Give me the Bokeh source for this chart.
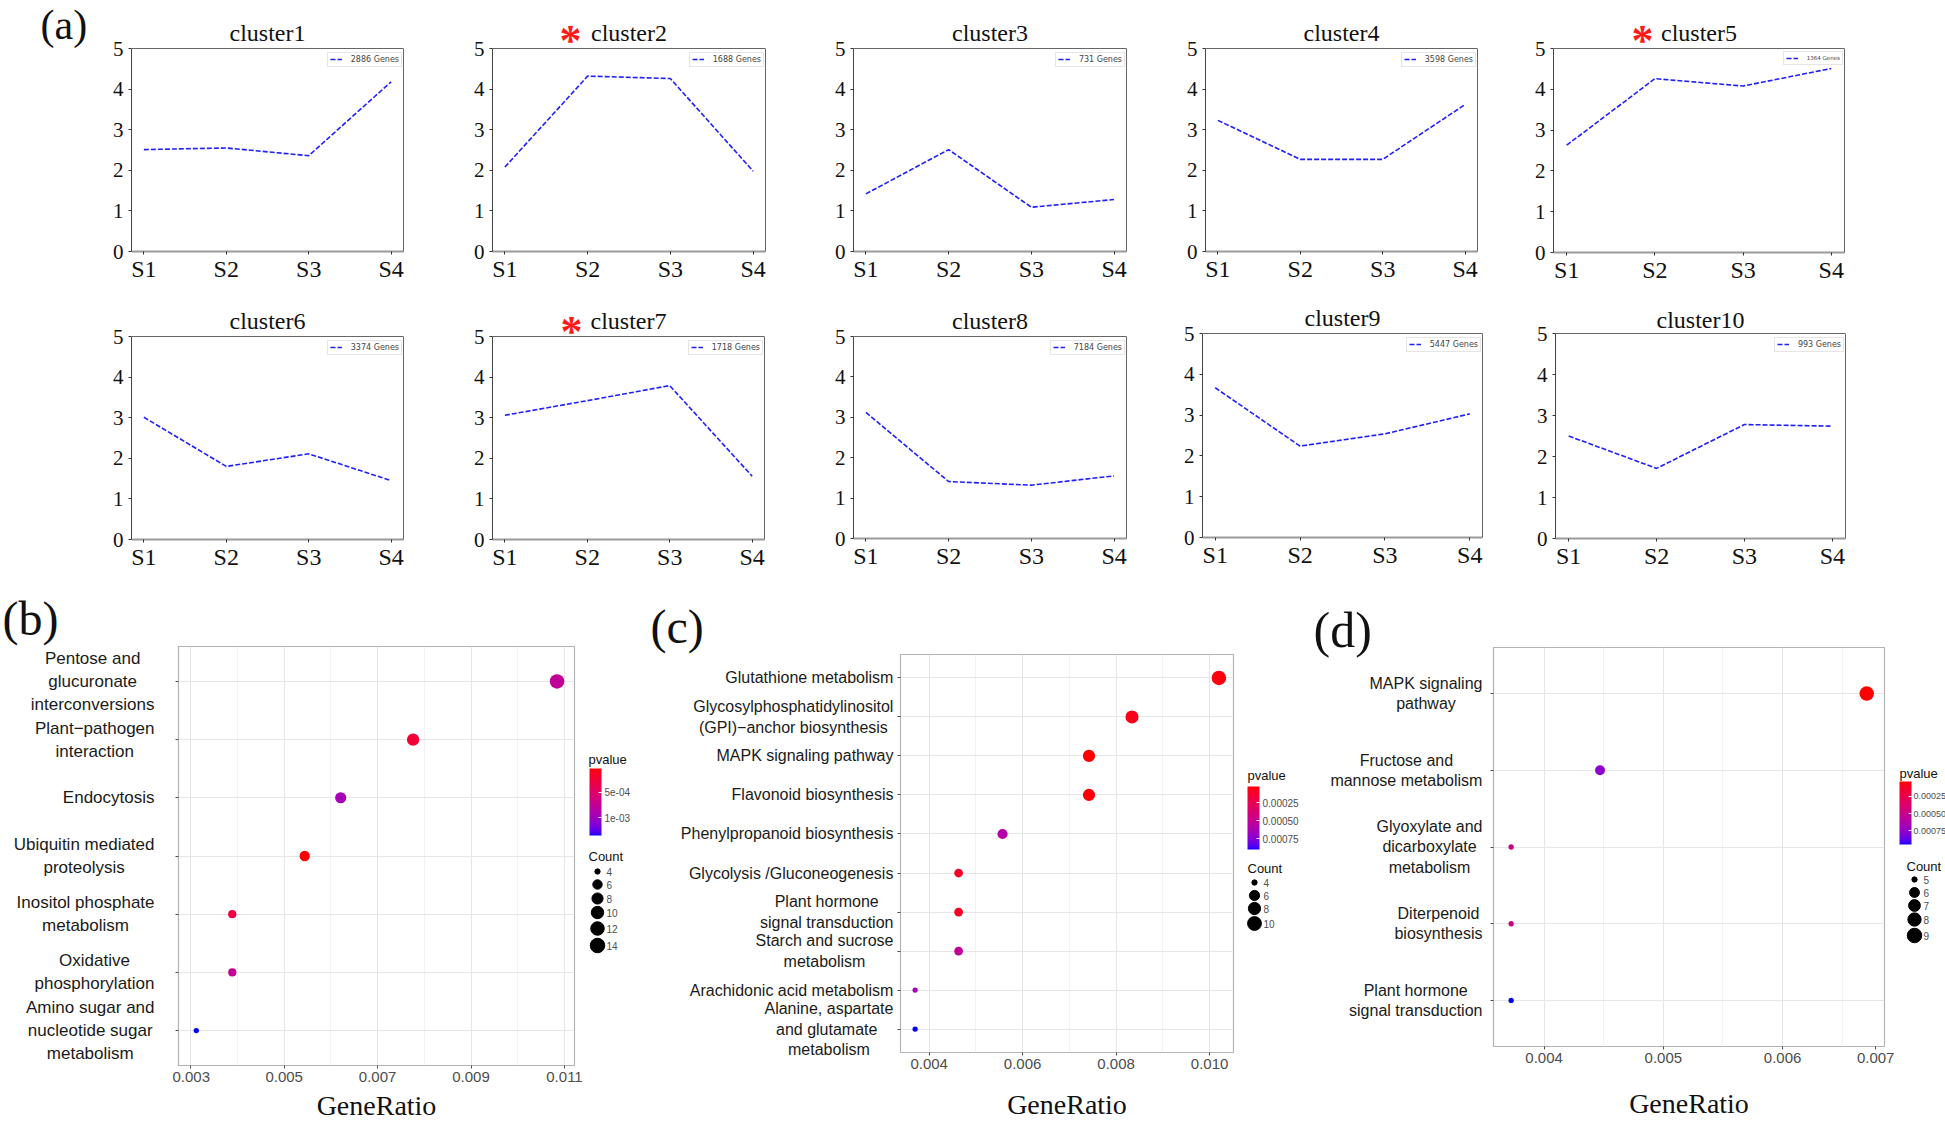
import os
import glob
import subprocess
import numpy as np
from bokeh.plotting import figure
from bokeh.models import (Range1d, FixedTicker, LinearColorMapper, ColorBar, AllLabels,
                          CustomJSTickFormatter, ColumnDataSource, PrintfTickFormatter,
                          LinearAxis, Span)
from bokeh.layouts import row, column
from bokeh.core.properties import value
from bokeh.embed import file_html
from bokeh.resources import INLINE

SERIF = "Liberation Serif"
SANS = "Liberation Sans"

# ------------------------------------------------------------------ data (a)
samples = ["S1", "S2", "S3", "S4"]
cluster_names = ["cluster1", "cluster2", "cluster3", "cluster4", "cluster5",
                 "cluster6", "cluster7", "cluster8", "cluster9", "cluster10"]
cluster_genes = [2886, 1688, 731, 3598, 1364, 3374, 1718, 7184, 5447, 993]
starred_clusters = ["cluster2", "cluster5", "cluster7"]
cluster1 = [2.51, 2.55, 2.36, 4.18]
cluster2 = [2.08, 4.32, 4.26, 1.98]
cluster3 = [1.42, 2.51, 1.09, 1.28]
cluster4 = [3.23, 2.27, 2.27, 3.62]
cluster5 = [2.63, 4.26, 4.08, 4.51]
cluster6 = [3.01, 1.80, 2.11, 1.45]
cluster7 = [3.06, 3.42, 3.79, 1.56]
cluster8 = [3.12, 1.41, 1.32, 1.55]
cluster9 = [3.67, 2.24, 2.54, 3.03]
cluster10 = [2.50, 1.71, 2.78, 2.74]
cluster_values = [cluster1, cluster2, cluster3, cluster4, cluster5,
                  cluster6, cluster7, cluster8, cluster9, cluster10]
a_y_ticks = [0, 1, 2, 3, 4, 5]

# ------------------------------------------------------------------ data (b)
b_terms = ["Pentose and\nglucuronate\ninterconversions", "Plant\u2212pathogen\ninteraction",
           "Endocytosis", "Ubiquitin mediated\nproteolysis", "Inositol phosphate\nmetabolism",
           "Oxidative\nphosphorylation", "Amino sugar and\nnucleotide sugar\nmetabolism"]
b_ratio = [0.01084, 0.00776, 0.00621, 0.00544, 0.00389, 0.00389, 0.00312]
b_count = [14, 10, 8, 7, 5, 5, 4]
b_pvalue = [7.6e-4, 2.3e-4, 9.5e-4, 3.0e-5, 2.9e-4, 7.6e-4, 1.35e-3]
b_xticks = [0.003, 0.005, 0.007, 0.009, 0.011]
b_xminor = [0.004, 0.006, 0.008, 0.010]
b_pticks = [5e-4, 1e-3]
b_count_keys = [4, 6, 8, 10, 12, 14]

# ------------------------------------------------------------------ data (c)
c_terms = ["Glutathione metabolism", "Glycosylphosphatidylinositol\n(GPI)\u2212anchor biosynthesis",
           "MAPK signaling pathway", "Flavonoid biosynthesis", "Phenylpropanoid biosynthesis",
           "Glycolysis /Gluconeogenesis", "Plant hormone\nsignal transduction",
           "Starch and sucrose\nmetabolism", "Arachidonic acid metabolism",
           "Alanine, aspartate\nand  glutamate\nmetabolism"]
c_ratio = [0.01020, 0.00834, 0.00742, 0.00742, 0.00557, 0.00463, 0.00463, 0.00463, 0.00370, 0.00370]
c_count = [11, 9, 8, 8, 6, 5, 5, 5, 4, 4]
c_pvalue = [5.0e-5, 7.0e-5, 2.8e-5, 4.5e-5, 5.7e-4, 1.1e-4, 1.1e-4, 5.1e-4, 6.4e-4, 9.0e-4]
c_xticks = [0.004, 0.006, 0.008, 0.010]
c_xminor = [0.005, 0.007, 0.009]
c_pticks = [0.00025, 0.00050, 0.00075]
c_count_keys = [4, 6, 8, 10]

# ------------------------------------------------------------------ data (d)
d_terms = ["MAPK signaling\npathway", "Fructose and\nmannose metabolism",
           "Glyoxylate and\ndicarboxylate\nmetabolism", "Diterpenoid\nbiosynthesis",
           "Plant hormone\nsignal transduction"]
d_ratio = [0.006705, 0.004469, 0.003724, 0.003724, 0.003724]
d_count = [9, 6, 5, 5, 5]
d_pvalue = [3.0e-5, 7.7e-4, 4.9e-4, 4.7e-4, 9.55e-4]
d_xticks = [0.004, 0.005, 0.006, 0.00678]   # label "0.007" sits at the panel edge in the reference
d_xgrid = [0.004, 0.005, 0.006]
d_xminor = [0.0045, 0.0055, 0.0065]
d_pticks = [0.00025, 0.00050, 0.00075]
d_count_keys = [5, 6, 7, 8, 9]


# ------------------------------------------------------------------ colour ramp (CIELAB, red -> blue)
_M = np.array([[0.4124564, 0.3575761, 0.1804375],
               [0.2126729, 0.7151522, 0.0721750],
               [0.0193339, 0.1191920, 0.9503041]])
_Minv = np.linalg.inv(_M)
_W = np.array([0.95047, 1.0, 1.08883])


def _lin(c):
    c = c / 255.0
    return c / 12.92 if c <= 0.04045 else ((c + 0.055) / 1.055) ** 2.4


def _gam(c):
    c = 12.92 * c if c <= 0.0031308 else 1.055 * (max(c, 0) ** (1 / 2.4)) - 0.055
    return int(round(min(max(c, 0.0), 1.0) * 255))


def _f(t):
    d = 6 / 29
    return t ** (1 / 3) if t > d ** 3 else t / (3 * d * d) + 4 / 29


def _finv(t):
    d = 6 / 29
    return t ** 3 if t > d else 3 * d * d * (t - 4 / 29)


def to_lab(rgb):
    xyz = _M @ np.array([_lin(c) for c in rgb]) / _W
    fx, fy, fz = (_f(v) for v in xyz)
    return np.array([116 * fy - 16, 500 * (fx - fy), 200 * (fy - fz)])


def from_lab(lab):
    L, a, b = lab
    fy = (L + 16) / 116
    fx = fy + a / 500
    fz = fy - b / 200
    xyz = np.array([_finv(fx), _finv(fy), _finv(fz)]) * _W
    lin = _Minv @ xyz
    return "#%02x%02x%02x" % tuple(_gam(c) for c in lin)


_red, _blue = to_lab((255, 0, 0)), to_lab((0, 0, 255))
PAL_RED_BLUE = [from_lab(_red + (_blue - _red) * t) for t in np.linspace(0, 1, 256)]
PAL_BLUE_RED = PAL_RED_BLUE[::-1]


def diam(c, lo, hi, dmin=5.3, dmax=14.5):
    return dmin + (dmax - dmin) * np.sqrt((np.asarray(c, float) - lo) / (hi - lo))


# ------------------------------------------------------------------ text widths
def _find_font_file(query, globs):
    try:
        out = subprocess.run(["fc-match", "-f", "%{file}", query],
                             capture_output=True, text=True, timeout=5).stdout.strip()
        if out and os.path.exists(out):
            return out
    except Exception:
        pass
    for pat in globs:
        hits = glob.glob(pat, recursive=True)
        if hits:
            return hits[0]
    return None


_SANS_FILE = _find_font_file("Liberation Sans:style=Regular",
                             ["/usr/share/fonts/**/LiberationSans-Regular.ttf"])
_DEJAVU_FILE = _find_font_file("DejaVu Sans:style=Book", ["/usr/share/fonts/**/DejaVuSans.ttf"])
_AW = dict(zip("abcdefghijklmnopqrstuvwxyz",
               [.556, .556, .5, .556, .556, .278, .556, .556, .222, .222, .5, .222, .833,
                .556, .556, .556, .556, .333, .5, .278, .556, .5, .722, .5, .5, .5]))
_AW.update(dict(zip("ABCDEFGHIJKLMNOPQRSTUVWXYZ",
                    [.667, .667, .722, .722, .667, .611, .778, .722, .278, .5, .667, .556, .833,
                     .722, .778, .667, .778, .722, .667, .611, .722, .667, .944, .667, .667, .611])))
_AW.update({" ": .278, "(": .333, ")": .333, ",": .278, "/": .278, "-": .333, "\u2212": .584,
            ".": .278})


def text_width(s, px, font_file=None, per_char=None):
    font_file = font_file or _SANS_FILE
    if font_file:
        try:
            from PIL import ImageFont
            return ImageFont.truetype(font_file, px).getlength(s)
        except Exception:
            pass
    if per_char is not None:
        return per_char * px * len(s)
    return sum(_AW.get(ch, .556) for ch in s) * px


def no_align(p):
    try:
        p.frame_align = False
    except Exception:
        pass
    return p


def base_fig(x0, x1, y0, y1, **kw):
    p = figure(width=x1 - x0, height=y1 - y0, toolbar_location=None, output_backend="svg", **kw)
    p.background_fill_color = "white"
    p.border_fill_color = "white"
    return no_align(p)


def text_fig(x0, x1, y0, y1, yr=None):
    """A plain canvas; x in page pixels, y in page pixels (downwards) unless yr is given."""
    p = base_fig(x0, x1, y0, y1, x_range=Range1d(x0, x1),
                 y_range=Range1d(*(yr if yr else (y1, y0))),
                 min_border=0, x_axis_type=None, y_axis_type=None)
    p.grid.visible = False
    p.outline_line_color = None
    return p


# ------------------------------------------------------------------ layout constants (page px)
W_TOTAL = 1945
ROW1 = (0, 290)
ROW2 = (290, 585)
ROW3 = (585, 1125)
A_EDGES = [0, 448, 809, 1166, 1515, W_TOTAL]
A_LETTER_W = 105
A_FRAMES = [(131, 403, 48, 251), (492, 765, 48, 251), (853, 1126, 48, 251),
            (1205, 1477, 48, 251), (1553, 1844, 48, 252),
            (131, 403, 336, 539), (492, 764, 336, 539), (853, 1126, 336, 538),
            (1202, 1482, 333, 537), (1555, 1845, 333, 538)]
TITLE_MID = [32, 32, 32, 32, 32, 320, 320, 320, 317, 319]
STAR_POS = {"cluster2": (570, 40), "cluster5": (1642, 40), "cluster7": (571, 331)}
X_A = (0.85, 4.15)


def cluster_fig(i):
    k = i % 5
    top, bot = ROW1 if i < 5 else ROW2
    fig_l, fig_r = A_EDGES[k], A_EDGES[k + 1]
    if i == 0:
        fig_l = A_LETTER_W
    fl, fr, ft, fb = A_FRAMES[i]
    ppu = (fb - ft) / 5.0
    ppx = (fr - fl) / (X_A[1] - X_A[0])

    def ypage(py):
        return (fb - py) / ppu

    def xpage(px):
        return X_A[0] + (px - fl) / ppx

    # frame extends up to the top of the canvas so that the title lives inside it
    p = base_fig(fig_l, fig_r, top, bot,
                 x_range=Range1d(*X_A), y_range=Range1d(0, ypage(top)),
                 min_border_left=fl - fig_l, min_border_right=fig_r - fr,
                 min_border_top=0, min_border_bottom=bot - fb)
    xs = list(range(1, len(samples) + 1))
    src = ColumnDataSource(dict(x=xs, y=cluster_values[i]))
    p.line("x", "y", source=src, line_color="#1f1fff", line_width=1.6, line_dash="5 2",
           legend_label=f"{cluster_genes[i]} Genes")
    p.xaxis.ticker = FixedTicker(ticks=xs)
    p.xaxis.major_label_overrides = {x: s for x, s in zip(xs, samples)}
    p.yaxis.ticker = FixedTicker(ticks=a_y_ticks)
    p.yaxis.bounds = (0, 5)
    for ax in (p.xaxis[0], p.yaxis[0]):
        ax.major_label_text_font = SERIF
        ax.major_label_text_color = "#111111"
        ax.major_tick_out = 3
        ax.major_tick_in = 0
        ax.minor_tick_line_color = None
        ax.major_tick_line_color = "#333333"
    p.xaxis.major_label_text_font_size = "24px"
    p.xaxis.major_label_standoff = 1
    p.yaxis.major_label_text_font_size = "21px"
    p.yaxis.major_label_standoff = 5
    p.xaxis.axis_line_color = "#9a9a9a"
    p.xaxis.axis_line_width = 2
    p.yaxis.axis_line_color = "#444444"
    right = LinearAxis(ticker=FixedTicker(ticks=[]), bounds=(0, 5), axis_line_color="#666666",
                       major_tick_line_color=None, minor_tick_line_color=None)
    p.add_layout(right, "right")
    p.add_layout(Span(location=5, dimension="width", line_color="#666666", line_width=1))
    p.grid.visible = False
    p.outline_line_color = None
    # legend box: top-right corner of the 0..5 box
    fsz = 5.5 if cluster_names[i] == "cluster5" else 8
    label = f"{cluster_genes[i]} Genes"
    pad, gw, gh, std = 2, 12, 8, 9
    lw = 2 * pad + gw + std + text_width(label, fsz, _DEJAVU_FILE, 0.6)
    lh = 2 * pad + max(gh, fsz * 1.2)
    lg = p.legend[0]
    lg.location = (fr - 3 - lw - fl, fb - (ft + 5) - lh)
    lg.label_text_font = "DejaVu Sans"
    lg.label_text_font_size = f"{fsz}px"
    lg.glyph_width = gw
    lg.glyph_height = gh
    lg.label_height = gh
    lg.label_standoff = std
    lg.padding = pad
    lg.margin = 0
    lg.spacing = 0
    lg.border_line_color = "#cccccc"
    lg.border_line_width = 1
    # title and significance mark
    p.text(x=[(X_A[0] + X_A[1]) / 2], y=[ypage(TITLE_MID[i])], text=[cluster_names[i]],
           text_font=value(SERIF), text_font_size="24px", text_color="#111111",
           text_align="center", text_baseline="middle")
    if cluster_names[i] in starred_clusters:
        sx, sy = STAR_POS[cluster_names[i]]
        p.text(x=[xpage(sx)], y=[ypage(sy)], text=["*"], text_font=value(SERIF),
               text_font_style="bold", text_font_size="44px", text_color="#ff1a1a",
               text_align="center", text_baseline="middle")
    return p


def dot_panel(terms, ratio, count, pval, xr, xticks, xminor, fig_lr, frame, font_px,
              label_right, gr_std, letter, grid_ticks=None):
    """Label canvas (term names + panel letter) and dot plot sharing one y mapping."""
    fig_l, fig_r = fig_lr
    top, bot = ROW3
    fl, fr, ft, fb = frame
    n = len(terms)
    ypos = [n - j for j in range(n)]
    yr = (0.4, n + 0.6)
    ppu = (fb - ft) / (yr[1] - yr[0])
    split = fl - 6
    # ---- label canvas
    lab = text_fig(fig_l, split, top, bot,
                   yr=(yr[0] - (bot - fb) / ppu, yr[1] + (ft - top) / ppu))
    centers = [label_right - max(text_width(s, font_px) for s in t.split("\n")) / 2 for t in terms]
    lab.text(x=centers, y=ypos, text=terms, text_font=value(SANS), text_font_size=f"{font_px}px",
             text_color="#1a1a1a", text_align="center", text_baseline="middle",
             text_line_height=1.2)
    ltxt, lx, lmid, lsize = letter
    lab.text(x=[lx], y=[yr[1] + (ft - lmid) / ppu], text=[ltxt], text_font=value(SERIF),
             text_font_size=f"{lsize}px", text_color="#111111", text_align="left",
             text_baseline="middle")
    # ---- dot plot
    p = base_fig(split, fig_r, top, bot,
                 x_range=Range1d(*xr), y_range=Range1d(*yr),
                 min_border_left=fl - split, min_border_right=fig_r - fr,
                 min_border_top=ft - top, min_border_bottom=bot - fb)
    mapper = LinearColorMapper(palette=PAL_RED_BLUE, low=min(pval), high=max(pval))
    src = ColumnDataSource(dict(x=ratio, y=ypos, size=diam(count, min(count), max(count)), p=pval))
    p.scatter("x", "y", source=src, size="size", line_color=None,
              fill_color={"field": "p", "transform": mapper})
    p.xaxis.ticker = FixedTicker(ticks=xticks, minor_ticks=xminor)
    p.xaxis.formatter = PrintfTickFormatter(format="%.3f")
    p.yaxis.ticker = FixedTicker(ticks=ypos)
    p.yaxis.major_label_overrides = {y: "" for y in ypos}
    p.yaxis.major_label_standoff = 0
    p.xaxis.major_label_text_font = SANS
    p.xaxis.major_label_text_font_size = "15px"
    p.xaxis.major_label_text_color = "#4d4d4d"
    p.xaxis.major_label_standoff = 2
    p.xaxis.axis_label = "GeneRatio"
    p.xaxis.axis_label_text_font = SERIF
    p.xaxis.axis_label_text_font_size = "28px"
    p.xaxis.axis_label_text_font_style = "normal"
    p.xaxis.axis_label_text_color = "#111111"
    p.xaxis.axis_label_standoff = gr_std
    for ax in (p.xaxis[0], p.yaxis[0]):
        ax.axis_line_color = None
        ax.major_tick_line_color = "#4d4d4d"
        ax.major_tick_out = 3
        ax.major_tick_in = 0
        ax.minor_tick_line_color = None
    if grid_ticks is not None:
        p.xgrid.ticker = FixedTicker(ticks=grid_ticks, minor_ticks=xminor)
    p.xgrid.grid_line_color = "#e6e6e6"
    p.xgrid.minor_grid_line_color = "#f2f2f2"
    p.ygrid.grid_line_color = "#e6e6e6"
    p.outline_line_color = "#b3b3b3"
    p.outline_line_width = 1.2
    return lab, p


def legend_fig(fig_lr, pval, pticks, pfmt_code, bar, count, keys, key_x, key_ys, lab_x,
               ptitle_xy, ctitle_xy, cb_font=10, cb_std=3):
    fig_l, fig_r = fig_lr
    top, bot = ROW3
    p = text_fig(fig_l, fig_r, top, bot)
    bl, bt, bw, bb = bar
    cb_mapper = LinearColorMapper(palette=PAL_BLUE_RED, low=-max(pval), high=-min(pval))
    cb = ColorBar(color_mapper=cb_mapper, orientation="vertical",
                  ticker=FixedTicker(ticks=[-t for t in pticks]),
                  formatter=CustomJSTickFormatter(code=pfmt_code),
                  major_label_policy=AllLabels(),
                  location=(bl - fig_l, bot - bb), width=bw, height=bb - bt,
                  major_label_text_font=SANS, major_label_text_font_size=f"{cb_font}px",
                  major_label_text_color="#4d4d4d", label_standoff=cb_std,
                  major_tick_line_color="white", major_tick_in=3, major_tick_out=0,
                  minor_tick_line_color=None, bar_line_color=None, border_line_color=None,
                  background_fill_color=None, padding=0, margin=0)
    p.add_layout(cb)
    p.scatter(x=[key_x] * len(keys), y=key_ys, size=list(diam(keys, min(count), max(count))),
              color="black")
    p.text(x=[lab_x] * len(keys), y=key_ys, text=[str(k) for k in keys],
           text_font=value(SANS), text_font_size="10px", text_color="#4d4d4d",
           text_baseline="middle", text_align="left")
    p.text(x=[ptitle_xy[0], ctitle_xy[0]], y=[ptitle_xy[1], ctitle_xy[1]],
           text=["pvalue", "Count"], text_font=value(SANS),
           text_font_size="13px", text_color="#111111", text_baseline="middle",
           text_align="left")
    return p


EXP_FMT = r"var s = (-tick).toExponential(0); return s.replace(/e-(\d)$/, 'e-0$1');"
FIX_FMT = "return (-tick).toFixed(5);"

# ---- row (a) top: panel letter canvas + clusters 1..5
a_letter = text_fig(0, A_LETTER_W, ROW1[0], ROW1[1])
a_letter.text(x=[40], y=[24], text=["(a)"], text_font=value(SERIF), text_font_size="42px",
              text_color="#111111", text_align="left", text_baseline="middle")
row1 = row(a_letter, *[cluster_fig(i) for i in range(5)], spacing=0)
row2 = row(*[cluster_fig(i) for i in range(5, 10)], spacing=0)

lab_b, dot_b = dot_panel(b_terms, b_ratio, b_count, b_pvalue, (0.002739, 0.011214), b_xticks,
                         b_xminor, (0, 586), (178, 574, 646, 1065), 17, 154, 5,
                         ("(b)", 2, 618, 48))
leg_b = legend_fig((586, 645), b_pvalue, b_pticks, EXP_FMT, (589, 768, 12, 835), b_count,
                   b_count_keys, 597, [871, 884, 898, 912, 928, 945], 606,
                   (588, 759), (588, 856))
lab_c, dot_c = dot_panel(c_terms, c_ratio, c_count, c_pvalue, (0.003387, 0.010512), c_xticks,
                         c_xminor, (645, 1240), (900, 1233, 654, 1052), 16, 893, 17,
                         ("(c)", 650, 626, 48))
leg_c = legend_fig((1240, 1305), c_pvalue, c_pticks, FIX_FMT, (1247, 786, 12, 849), c_count,
                   c_count_keys, 1254, [882, 895, 908, 923], 1263, (1247, 775), (1247, 868))
lab_d, dot_d = dot_panel(d_terms, d_ratio, d_count, d_pvalue, (0.003576, 0.006854), d_xticks,
                         d_xminor, (1305, 1895), (1493, 1884, 647, 1046), 16, 1482, 22,
                         ("(d)", 1313, 629, 50), grid_ticks=d_xgrid)
leg_d = legend_fig((1895, W_TOTAL), d_pvalue, d_pticks, FIX_FMT, (1899, 781, 12, 844), d_count,
                   d_count_keys, 1914, [879, 892, 905, 919, 935], 1923, (1899, 773), (1906, 866),
                   cb_font=9, cb_std=2)

row3 = row(lab_b, dot_b, leg_b, lab_c, dot_c, leg_c, lab_d, dot_d, leg_d, spacing=0)
layout = column(row1, row2, row3, spacing=0)

open("out.html", "w").write(file_html(layout, INLINE, title="clusters and KEGG enrichment"))
